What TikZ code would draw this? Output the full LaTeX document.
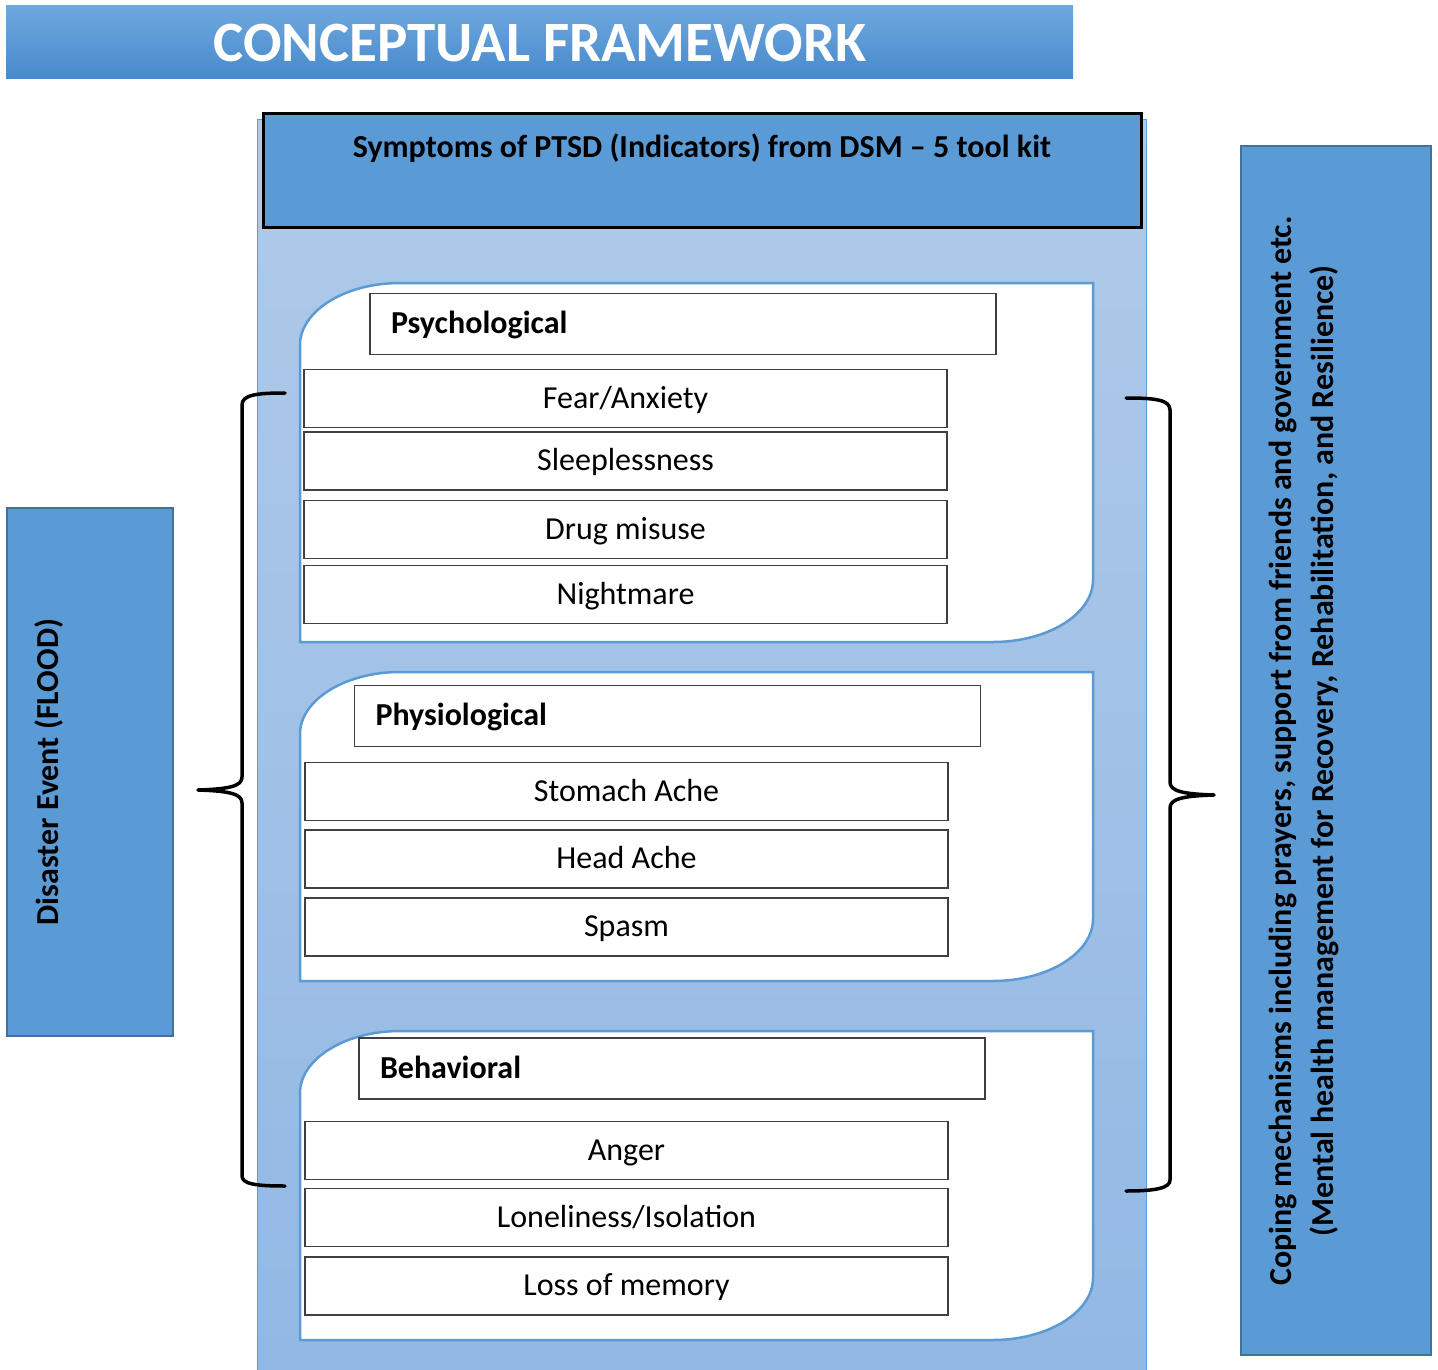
\documentclass[tikz,border=0pt]{standalone}
\usepackage{fontspec}
\setmainfont{Carlito}
\usetikzlibrary{positioning}
\definecolor{bannertop}{HTML}{6FA7DE}
\definecolor{bannerbot}{HTML}{478ACB}
\definecolor{backtop}{HTML}{B0CAE9}
\definecolor{backbot}{HTML}{92B8E4}
\definecolor{shapeblue}{HTML}{5B9BD5}
\definecolor{shapeedge}{HTML}{41719C}

\begin{document}
\begin{tikzpicture}[x=1pt,y=-1pt,
	bigtext/.style={font=\fontsize{32}{42}\selectfont\bfseries},
	item/.style={draw=black!75, line width=1.3pt, fill=white, minimum width=643pt,
		minimum height=58pt, inner sep=0pt, text height=25.6pt, text depth=5.8pt,
		font=\fontsize{32}{36}\selectfont},
	grouphead/.style={draw=black!75, line width=1.3pt, fill=white, text width=584pt,
		inner xsep=21pt, inner ysep=0pt, minimum height=61pt, align=left,
		text height=25.6pt, text depth=5.8pt, bigtext},
	groupbox/.style={draw=shapeblue, line width=2.5pt, fill=white},
	sidebox/.style={draw=shapeedge, line width=2.5pt, fill=shapeblue, inner sep=0pt},
	brace/.style={line width=3.5pt, line join=round, line cap=round}]
	\useasboundingbox (0,0) rectangle (1438,1370);
	
	% title banner
	\shade[top color=bannertop, bottom color=bannerbot] (6,6) rectangle (1073,79);
	\node[text=white, font=\fontsize{57}{62}\selectfont\bfseries] (title) at (540,43) {CONCEPTUAL FRAMEWORK};
	
	% background of the indicator block
	\shade[top color=backtop, bottom color=backbot] (257,120) rectangle (1146,1372);
	\draw[shapeblue, line width=1pt] (257,1372) -- (257,120) -- (1146,120) -- (1146,1372);
	
	% header box
	\node[draw=black, line width=3pt, fill=shapeblue, minimum width=878pt, minimum height=113pt,
		inner sep=0pt] (ptsd) at (702,170.5) {};
	\node[bigtext] (ptsdtext) at (702,148) {Symptoms of PTSD (Indicators) from DSM -- 5 tool kit};
	
	% the three groups
	\foreach \gtop/\gbot in {283/642, 672/981, 1031/1340}
		\draw[groupbox] (300,\gbot) -- (300,\gtop+62) .. controls (300,\gtop+28) and (345,\gtop) .. (400,\gtop)
			-- (1093,\gtop) -- (1093,\gbot-62) .. controls (1093,\gbot-28) and (1048,\gbot) .. (993,\gbot) -- cycle;
	
	\node[grouphead] (psych) at (683,324) {Psychological};
	\node[item] (fear) at (625.5,398.5) {Fear/Anxiety};
	\node[item] (sleep) at (625.5,461) {Sleeplessness};
	\node[item] (drug) at (625.5,529.5) {Drug misuse};
	\node[item] (night) at (625.5,594.5) {Nightmare};
	
	\node[grouphead] (physio) at (667.5,716) {Physiological};
	\node[item] (stomach) at (626.5,791.5) {Stomach Ache};
	\node[item] (head) at (626.5,859) {Head Ache};
	\node[item] (spasm) at (626.5,927) {Spasm};
	
	\node[grouphead] (behav) at (672,1068.5) {Behavioral};
	\node[item] (anger) at (626.5,1150.5) {Anger};
	\node[item] (lonely) at (626.5,1217.5) {Loneliness/Isolation};
	\node[item] (memory) at (626.5,1286) {Loss of memory};
	
	% side boxes
	\node[sidebox, minimum width=166pt, minimum height=528pt] (disaster) at (90,772) {};
	\node[bigtext, rotate=90] (disastertext) at (49,772) {Disaster Event (FLOOD)};
	\node[sidebox, minimum width=190pt, minimum height=1209pt] (coping) at (1336,750.5) {};
	\node[bigtext, rotate=90, align=center] (copingtext) at (1304,751)
		{Coping mechanisms including prayers, support from friends and government etc.\\
		(Mental health management for Recovery, Rehabilitation, and Resilience)};
	
	% braces
	\draw[brace] (285,393) .. controls (256,393) and (242,395) .. (242,405) -- (242,777)
		.. controls (242,786) and (230,789) .. (198,790)
		.. controls (230,791) and (242,794) .. (242,803) -- (242,1176)
		.. controls (242,1184) and (256,1186) .. (285,1186);
	\draw[brace] (1126,398) .. controls (1156,398) and (1170,400) .. (1170,410) -- (1170,782)
		.. controls (1170,791) and (1182,794) .. (1214,795)
		.. controls (1182,796) and (1170,799) .. (1170,808) -- (1170,1180)
		.. controls (1170,1188) and (1156,1191) .. (1126,1191);
\end{tikzpicture}
\end{document}
